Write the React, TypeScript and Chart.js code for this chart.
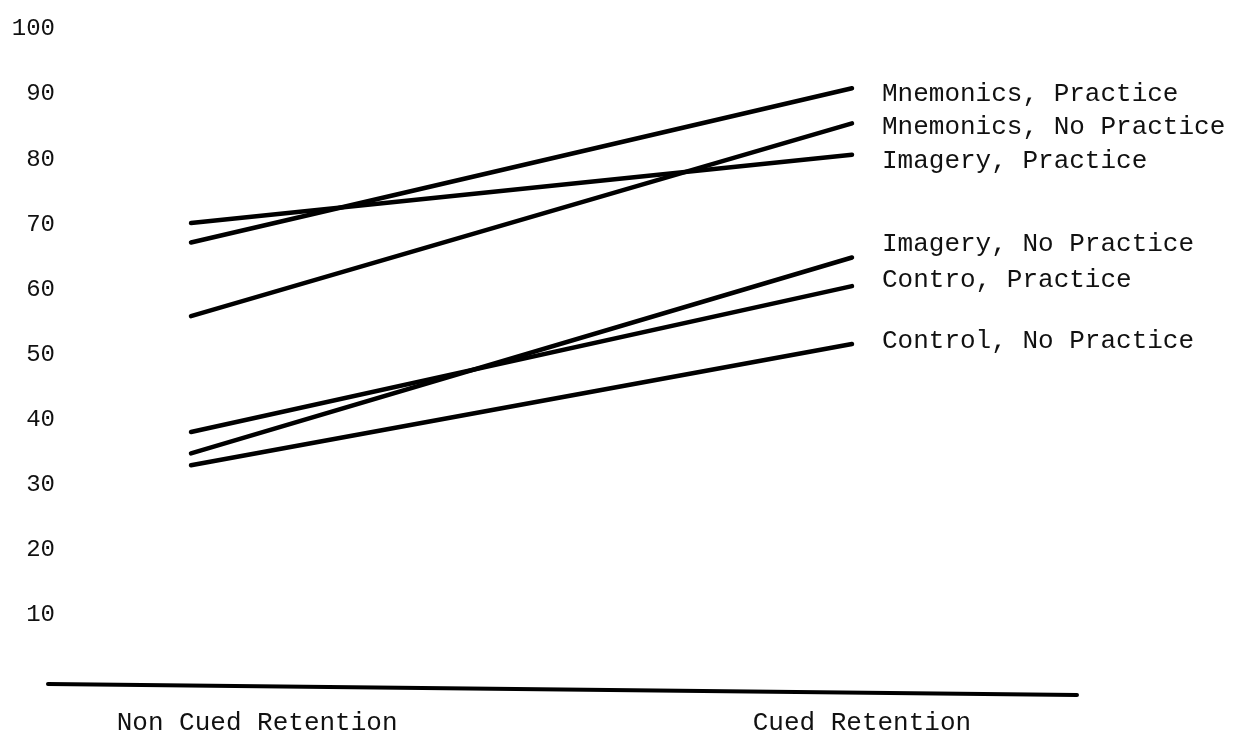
import React, { useEffect, useRef } from "react";
import { Chart, registerables } from "chart.js";

Chart.register(...registerables);

// ---- data ----
const categories = ["Non Cued Retention", "Cued Retention"];
const seriesNames = [
  "Mnemonics, Practice",
  "Mnemonics, No Practice",
  "Imagery, Practice",
  "Imagery, No Practice",
  "Contro, Practice",
  "Control, No Practice",
];
const nonCuedValues = [67.2, 55.9, 70.2, 34.8, 38.1, 33.0];
const cuedValues = [90.9, 85.5, 80.7, 64.9, 60.5, 51.6];
const yTickValues = [10, 20, 30, 40, 50, 60, 70, 80, 90, 100];

// ---- layout / style (not data) ----
const categoryX = [0, 1];
const categoryLabelX = [0.1, 1.015];
const labelBaselineDy = [13, 11, 13, -7, 1, 4];
const FONT = "'Liberation Mono', 'DejaVu Sans Mono', monospace";

const seriesLabelPlugin = {
  id: "seriesLabels",
  afterDatasetsDraw(chart: any) {
    const ctx = chart.ctx;
    const xs = chart.scales.x;
    const ys = chart.scales.y;
    ctx.save();
    ctx.font = `26px ${FONT}`;
    ctx.fillStyle = "#111";
    ctx.textAlign = "left";
    ctx.textBaseline = "alphabetic";
    chart.data.datasets.forEach((ds: any, i: number) => {
      const last = ds.data[ds.data.length - 1];
      const px = xs.getPixelForValue(last.x) + 30;
      const py = ys.getPixelForValue(last.y) + labelBaselineDy[i];
      ctx.fillText(ds.label, px, py);
    });
    // slanted, hand-drawn looking x axis
    const y0 = ys.getPixelForValue(0);
    const { left, right } = chart.chartArea;
    ctx.strokeStyle = "#000";
    ctx.lineWidth = 4;
    ctx.lineCap = "round";
    ctx.beginPath();
    ctx.moveTo(left - 12, y0 + 4);
    ctx.lineTo(right, y0 + 15);
    ctx.stroke();
    ctx.restore();
  },
};

export default function App() {
  const ref = useRef<HTMLCanvasElement | null>(null);

  useEffect(() => {
    if (!ref.current) return;
    const datasets = seriesNames.map((name, i) => ({
      label: name,
      data: [
        { x: categoryX[0], y: nonCuedValues[i] },
        { x: categoryX[1], y: cuedValues[i] },
      ],
      borderColor: "#000",
      borderWidth: 4.5,
      borderCapStyle: "round" as const,
      pointRadius: 0,
      fill: false,
      tension: 0,
    }));

    const chart = new Chart(ref.current, {
      type: "line",
      data: { datasets },
      plugins: [seriesLabelPlugin],
      options: {
        animation: false,
        responsive: false,
        layout: { padding: { top: 29, right: 174, bottom: 0, left: 0 } },
        plugins: {
          legend: { display: false },
          tooltip: { enabled: false },
        },
        scales: {
          x: {
            type: "linear",
            min: -0.1982,
            max: 1.3404,
            grid: { display: false, drawTicks: false },
            border: { display: false },
            afterFit: (scale: any) => {
              scale.height = 62;
            },
            afterBuildTicks: (scale: any) => {
              scale.ticks = categoryLabelX.map((v) => ({ value: v }));
            },
            ticks: {
              autoSkip: false,
              maxRotation: 0,
              padding: 28,
              color: "#111",
              font: { family: FONT, size: 26 },
              callback: (_v: any, idx: number) => categories[idx],
            },
          },
          y: {
            type: "linear",
            min: 0,
            max: 100,
            grid: { display: false, drawTicks: false },
            border: { display: false },
            afterFit: (scale: any) => {
              scale.width = 60;
            },
            afterBuildTicks: (scale: any) => {
              scale.ticks = yTickValues.map((v) => ({ value: v }));
            },
            ticks: {
              padding: 5,
              color: "#111",
              font: { family: FONT, size: 24 },
              callback: (v: any) => String(v),
            },
          },
        },
      },
    });
    return () => chart.destroy();
  }, []);

  return (
    <div style={{ position: "fixed", left: 0, top: 0, width: 1251, height: 742, background: "#fff" }}>
      <canvas ref={ref} width={1251} height={742} style={{ display: "block" }} />
    </div>
  );
}
